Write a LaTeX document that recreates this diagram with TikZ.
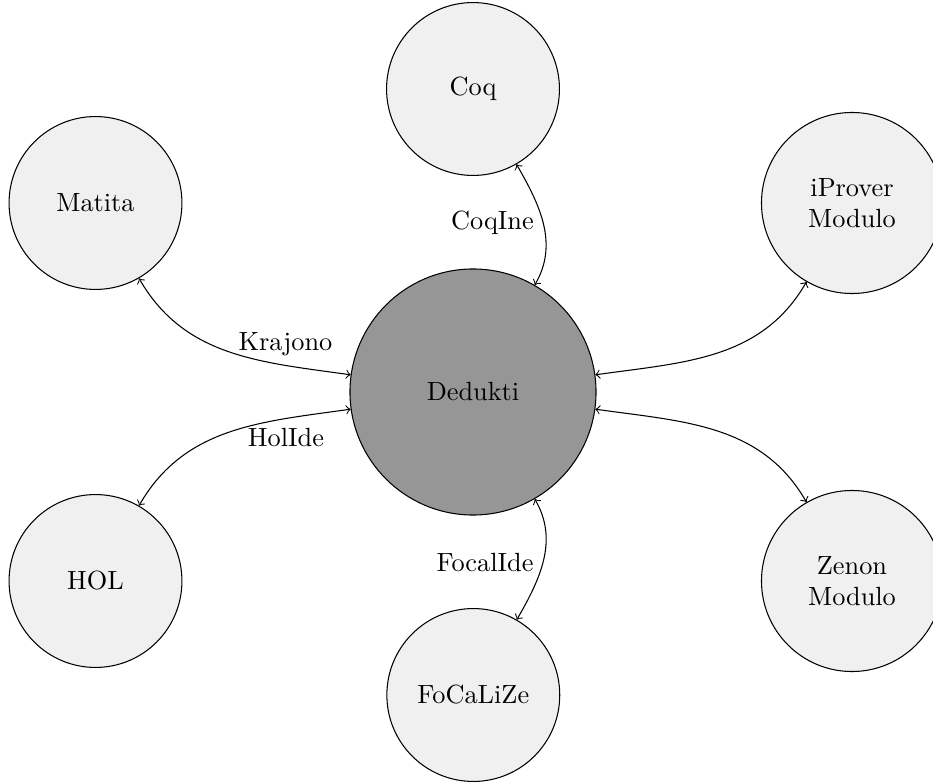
\documentclass[tikz,border=0pt]{standalone}
\begin{document}
\begin{tikzpicture}[x=0.38pt,y=-0.38pt,
  tool/.style={circle,draw,fill=black!6,minimum size=65.7pt,inner sep=0pt,align=center},
  widetool/.style={tool,minimum size=68.8pt},
  hub/.style={circle,draw,fill=black!41,minimum size=93.5pt,inner sep=0pt},
  link/.style={<->,>=to},
  lbl/.style={inner sep=0pt}]
\useasboundingbox (0,0) rectangle (933,783);
\node[hub] (ded) at (473,392) {Dedukti};
\node[tool] (coq) at (473,89) {Coq};
\node[tool] (mat) at (95.5,203) {Matita};
\node[tool] (hol) at (95.5,581) {HOL};
\node[tool] (foc) at (473.3,695) {FoCaLiZe};
\node[widetool] (ipr) at (852,203) {iProver\\Modulo};
\node[widetool] (zen) at (852,581) {Zenon\\Modulo};
\draw[link] (ded) to[out=60,in=300] (coq);
\draw[link] (ded) to[out=172,in=300] (mat);
\draw[link] (ded) to[out=188,in=60] (hol);
\draw[link] (ded) to[out=300,in=60] (foc);
\draw[link] (ded) to[out=8,in=240] (ipr);
\draw[link] (ded) to[out=352,in=120] (zen);
\node[lbl] (lcoq) at (492.5,223) {CoqIne};
\node[lbl] (lkra) at (285.5,344) {Krajono};
\node[lbl] (lhol) at (286,438) {HolIde};
\node[lbl] (lfoc) at (485,563) {FocalIde};
\end{tikzpicture}
\end{document}
